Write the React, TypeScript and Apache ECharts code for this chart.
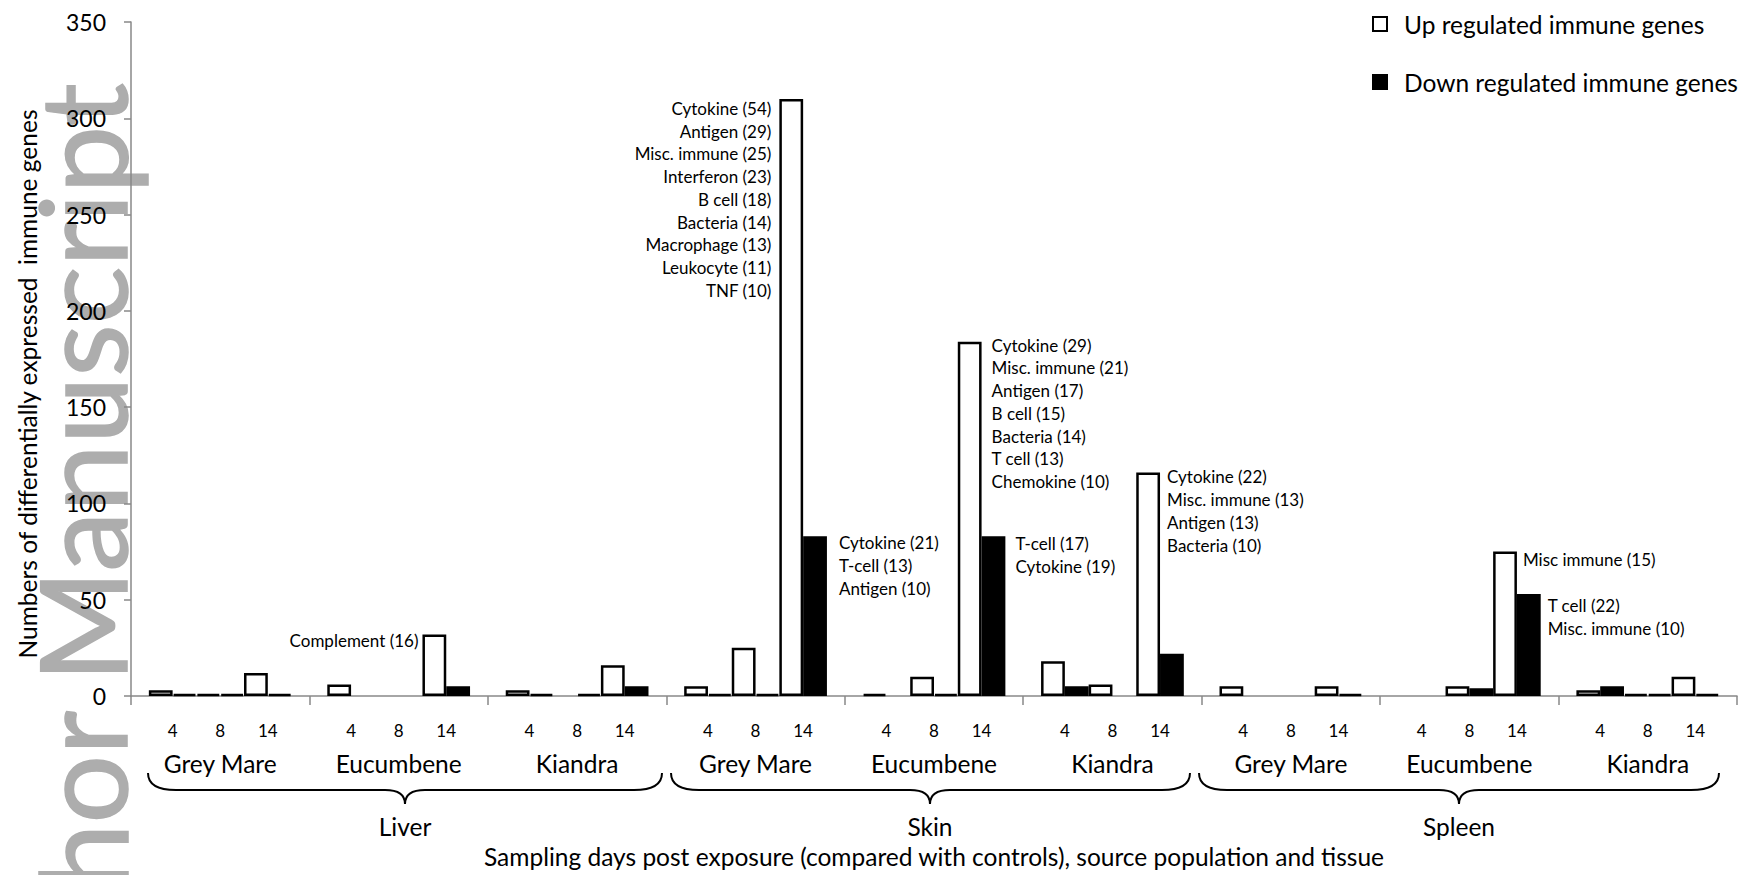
import React, { useEffect, useRef } from "react";
import * as echarts from "echarts";

// ---- data ----
const populations = [
  "Grey Mare", "Eucumbene", "Kiandra",
  "Grey Mare", "Eucumbene", "Kiandra",
  "Grey Mare", "Eucumbene", "Kiandra",
];
const tissues = ["Liver", "Skin", "Spleen"];
const dayLabels = ["4", "8", "14"];

const upDay4 = [3, 6, 3, 5, 1, 18, 5, 0, 3];
const downDay4 = [1, 0, 1, 1, 0, 5, 0, 0, 5];
const upDay8 = [1, 0, 0, 25, 10, 6, 0, 5, 1];
const downDay8 = [1, 0, 1, 1, 1, 0, 0, 4, 1];
const upDay14 = [12, 32, 16, 310, 184, 116, 5, 75, 10];
const downDay14 = [1, 5, 5, 83, 83, 22, 1, 53, 1];

const yMin = 0;
const yMax = 350;
const yInterval = 50;

const UP = "Up regulated immune genes";
const DOWN = "Down regulated immune genes";
const X_NAME = "Sampling days post exposure (compared with controls), source population and tissue";
const Y_NAME = "Numbers of differentially expressed  immune genes";

type Note = { key: string; index: number; side: "left" | "right"; dx: number; dy: number; lines: string[] };
const notes: Note[] = [
  { key: "up14", index: 1, side: "left", dx: -4, dy: -5, lines: ["Complement (16)"] },
  {
    key: "up14", index: 3, side: "left", dx: -8, dy: -2,
    lines: ["Cytokine (54)", "Antigen (29)", "Misc. immune (25)", "Interferon (23)", "B cell (18)", "Bacteria (14)", "Macrophage (13)", "Leukocyte (11)", "TNF (10)"],
  },
  { key: "down14", index: 3, side: "right", dx: 12, dy: -5, lines: ["Cytokine (21)", "T-cell (13)", "Antigen (10)"] },
  {
    key: "up14", index: 4, side: "right", dx: 10, dy: -8,
    lines: ["Cytokine (29)", "Misc. immune (21)", "Antigen (17)", "B cell (15)", "Bacteria (14)", "T cell (13)", "Chemokine (10)"],
  },
  { key: "down14", index: 4, side: "right", dx: 10, dy: -4, lines: ["T-cell (17)", "Cytokine (19)"] },
  { key: "up14", index: 5, side: "right", dx: 7, dy: -7, lines: ["Cytokine (22)", "Misc. immune (13)", "Antigen (13)", "Bacteria (10)"] },
  { key: "up14", index: 7, side: "right", dx: 6, dy: -3, lines: ["Misc immune (15)"] },
  { key: "down14", index: 7, side: "right", dx: 7, dy: 0, lines: ["T cell (22)", "Misc. immune (10)"] },
];

const FONT = "Lato, 'Noto Sans', sans-serif";
const TXT = "#000";

const seriesDefs = [
  { key: "up4", name: UP, values: upDay4, up: true },
  { key: "down4", name: DOWN, values: downDay4, up: false },
  { key: "up8", name: UP, values: upDay8, up: true },
  { key: "down8", name: DOWN, values: downDay8, up: false },
  { key: "up14", name: UP, values: upDay14, up: true },
  { key: "down14", name: DOWN, values: downDay14, up: false },
];

function braceElements(L: number, R: number, tip: number, yTop: number, yLine: number, yTip: number) {
  const hook = 28;
  const mid = 20;
  const st = { stroke: "#000", lineWidth: 2, fill: "none" };
  return [
    { type: "bezierCurve", shape: { x1: L, y1: yTop, cpx1: L, cpy1: yLine, x2: L + hook, y2: yLine }, style: st },
    { type: "line", shape: { x1: L + hook, y1: yLine, x2: tip - mid, y2: yLine }, style: st },
    { type: "bezierCurve", shape: { x1: tip - mid, y1: yLine, cpx1: tip, cpy1: yLine, x2: tip, y2: yTip }, style: st },
    { type: "bezierCurve", shape: { x1: tip + mid, y1: yLine, cpx1: tip, cpy1: yLine, x2: tip, y2: yTip }, style: st },
    { type: "line", shape: { x1: tip + mid, y1: yLine, x2: R - hook, y2: yLine }, style: st },
    { type: "bezierCurve", shape: { x1: R, y1: yTop, cpx1: R, cpy1: yLine, x2: R - hook, y2: yLine }, style: st },
  ].map((e) => ({ ...e, silent: true }));
}

const braceSpans = [
  { L: 148, R: 662, tip: 405 },
  { L: 671, R: 1190, tip: 930 },
  { L: 1199, R: 1719, tip: 1459 },
];

export default function App() {
  const ref = useRef<HTMLDivElement>(null);

  useEffect(() => {
    if (!ref.current) return;
    const chart = echarts.init(ref.current, undefined, { renderer: "svg" });

    const series = seriesDefs.map((def) => ({
      type: "bar",
      name: def.name,
      barGap: "0%",
      barCategoryGap: "20%",
      itemStyle: { color: def.up ? "#fff" : "#000", borderColor: "#000", borderWidth: 2.5 },
      emphasis: { disabled: true },
      data: def.values.map((v, i) => {
        const note = notes.find((n) => n.key === def.key && n.index === i);
        const item: any = { value: v === 0 ? "-" : v };
        if (note) {
          item.label = {
            show: true,
            position: note.side === "right" ? ["100%", 0] : [0, 0],
            offset: [note.dx, note.dy],
            align: note.side === "right" ? "left" : "right",
            verticalAlign: "top",
            formatter: note.lines.join("\n"),
            fontFamily: FONT,
            fontSize: 17,
            lineHeight: 22.75,
            color: TXT,
            textBorderWidth: 0,
          };
        }
        return item;
      }),
    }));

    const graphic: any[] = [
      {
        type: "text",
        x: 80,
        y: 83,
        rotation: Math.PI / 2,
        z: -100,
        silent: true,
        style: {
          text: "Author Manuscript",
          fontSize: 121,
          fontFamily: FONT,
          fill: "#adadad",
          stroke: "#adadad",
          lineWidth: 1.5,
          align: "right",
          verticalAlign: "middle",
        },
      },
      {
        type: "text",
        x: 27,
        y: 384,
        rotation: Math.PI / 2,
        silent: true,
        style: { text: Y_NAME, fontSize: 24.5, fontFamily: FONT, fill: TXT, align: "center", verticalAlign: "middle" },
      },
      ...tissues.map((t, i) => ({
        type: "text",
        x: braceSpans[i].tip,
        y: 826,
        silent: true,
        style: { text: t, fontSize: 24.5, fontFamily: FONT, fill: TXT, align: "center", verticalAlign: "middle" },
      })),
      ...braceSpans.flatMap((b) => braceElements(b.L, b.R, b.tip, 773, 790, 804)),
    ];

    const pairWidth = ((1740 - 131 - 3) / populations.length) * 0.8 / dayLabels.length;

    chart.setOption({
      animation: false,
      textStyle: { fontFamily: FONT, color: TXT },
      grid: { left: 131, right: 3, top: 22, bottom: 179, outerBoundsMode: "none" },
      legend: {
        orient: "vertical",
        left: 1367,
        top: 4,
        itemWidth: 14,
        itemHeight: 14,
        itemGap: 28,
        icon: "rect",
        selectedMode: false,
        data: [
          { name: UP, itemStyle: { color: "#fff", borderColor: "#000", borderWidth: 2 } },
          { name: DOWN, itemStyle: { color: "#000", borderColor: "#000", borderWidth: 2 } },
        ],
        textStyle: { fontFamily: FONT, fontSize: 24.5, color: TXT, lineHeight: 30, padding: [0, 0, 0, 12] },
      },
      xAxis: {
        type: "category",
        data: populations,
        axisLine: { lineStyle: { color: "#888", width: 1.5 } },
        axisTick: { show: true, length: 9, lineStyle: { color: "#888", width: 1.5 } },
        axisLabel: {
          interval: 0,
          margin: 23,
          formatter: (v: string) => dayLabels.map((d) => `{d|${d}}`).join("") + `\n{p|${v}}`,
          rich: {
            d: { width: pairWidth, align: "center", fontSize: 17, lineHeight: 22, fontFamily: FONT, color: TXT },
            p: { fontSize: 24.5, lineHeight: 44, fontFamily: FONT, color: TXT },
          },
        },
        name: X_NAME,
        nameLocation: "middle",
        nameGap: 148,
        nameTextStyle: { fontSize: 24.5, fontFamily: FONT, color: TXT },
      },
      yAxis: {
        type: "value",
        min: yMin,
        max: yMax,
        interval: yInterval,
        axisLine: { show: true, lineStyle: { color: "#888", width: 1.5 } },
        axisTick: { show: true, length: 7, lineStyle: { color: "#888", width: 1.5 } },
        splitLine: { show: false },
        axisLabel: { margin: 25, fontSize: 23, fontFamily: FONT, color: TXT },
      },
      series,
      graphic,
    });

    return () => chart.dispose();
  }, []);

  return (
    <div
      ref={ref}
      style={{ position: "fixed", left: 0, top: 0, width: 1740, height: 875, background: "#fff" }}
    />
  );
}
